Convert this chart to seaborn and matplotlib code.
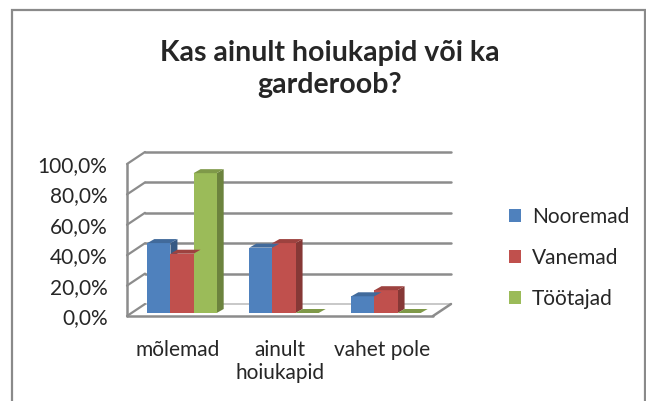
import numpy as np
import pandas as pd
import matplotlib as mpl
import matplotlib.pyplot as plt
import seaborn as sns
from matplotlib.patches import Polygon, Rectangle

categories = ["mõlemad", "ainult\nhoiukapid", "vahet pole"]
series = ["Nooremad", "Vanemad", "Töötajad"]
nooremad = [46, 43, 11]
vanemad = [39, 46, 15]
tootajad = [92, 0, 0]
yticks = [0, 20, 40, 60, 80, 100]
title = "Kas ainult hoiukapid või ka\ngarderoob?"

colors = ["#4F81BD", "#C0504D", "#9BBB59"]

df = pd.DataFrame({
    "kategooria": categories * 3,
    "grupp": np.repeat(series, 3),
    "väärtus": nooremad + vanemad + tootajad,
})

sns.set_style("white")
plt.rcParams["font.family"] = ["Lato", "DejaVu Sans"]

W, H = 646, 401
fig = plt.figure(figsize=(W / 100, H / 100), dpi=100)

# axes box = front face of the 3d plot, in pixels
x0, x1, yb, yt = 127, 433, 316, 164
ax = fig.add_axes([x0 / W, 1 - yb / H, (x1 - x0) / W, (yb - yt) / H])

sns.barplot(data=df, x="kategooria", y="väärtus", hue="grupp",
            palette=colors, width=0.68, saturation=1, ax=ax,
            edgecolor="none", legend=False)
ax.set_xlim(-0.5, 2.5)
ax.set_ylim(0, 100)

# pixel -> data
px_x = 3.0 / (x1 - x0)
px_y = 100.0 / (yb - yt)

# back wall and floor
wdx, wdy = 18 * px_x, 12 * px_y
gc = "#8C8C8C"
for v in yticks:
    ax.plot([-0.5, -0.5 + wdx], [v, v + wdy], color=gc, lw=1.6, clip_on=False, zorder=0.5)
    if v > 0:
        ax.plot([-0.5 + wdx, 2.5 + wdx], [v + wdy, v + wdy], color=gc, lw=1.8,
                clip_on=False, zorder=0.5)
ax.plot([-0.5 + wdx, 2.5 + wdx], [wdy, wdy], color="#BFBFBF", lw=1.2, clip_on=False, zorder=0.4)
ax.plot([-0.5, 2.5], [0, 0], color=gc, lw=1.8, clip_on=False, zorder=0.5)
ax.plot([2.5, 2.5 + wdx], [0, wdy], color=gc, lw=1.8, clip_on=False, zorder=0.5)
ax.plot([-0.5, -0.5], [0, 100], color=gc, lw=1.8, clip_on=False, zorder=0.5)

# pseudo 3d faces of the bars, bars sit a little behind the front edge
lift_x, lift_y = 4 * px_x, 3 * px_y
bdx, bdy = 7 * px_x, 4 * px_y
for p in list(ax.patches):
    bx, bw, bh = p.get_x() + lift_x, p.get_width(), p.get_height()
    p.set_x(bx)
    p.set_y(lift_y)
    c = np.array(mpl.colors.to_rgb(p.get_facecolor()))
    p.set_zorder(2)
    b0 = lift_y
    side = Polygon([(bx + bw, b0), (bx + bw + bdx, b0 + bdy), (bx + bw + bdx, b0 + bh + bdy),
                    (bx + bw, b0 + bh)],
                   closed=True, facecolor=c * 0.7, edgecolor="none", zorder=1.9)
    top = Polygon([(bx, b0 + bh), (bx + bw, b0 + bh), (bx + bw + bdx, b0 + bh + bdy),
                   (bx + bdx, b0 + bh + bdy)],
                  closed=True, facecolor=c * 0.82, edgecolor="none", zorder=2.1)
    ax.add_patch(side)
    ax.add_patch(top)

for s in ax.spines.values():
    s.set_visible(False)
ax.set_yticks(yticks)
ax.set_yticklabels([f"{v:.1f}%".replace(".", ",") for v in yticks], fontsize=15)
ax.tick_params(axis="y", length=0, pad=14)
ax.tick_params(axis="x", length=0, labelsize=15, pad=17)
ax.set_xlabel("")
ax.set_ylabel("")

fig.suptitle(title, x=0.51, y=0.90, fontsize=20.5, fontweight="bold", linespacing=1.3)

handles = [Rectangle((0, 0), 1, 1, facecolor=c, edgecolor="none") for c in colors]
fig.legend(handles, series, loc="center left", bbox_to_anchor=(490 / W, 1 - 258 / H),
           frameon=False, fontsize=15, handlelength=0.6, handleheight=0.6,
           labelspacing=1.0, handletextpad=0.5)

fig.add_artist(Rectangle((12 / W, -0.1), 633 / W, 1.1 - 10 / H, transform=fig.transFigure,
                         fill=False, edgecolor="#8A8A8A", lw=1.6))

fig.savefig("out.png", dpi=100)
